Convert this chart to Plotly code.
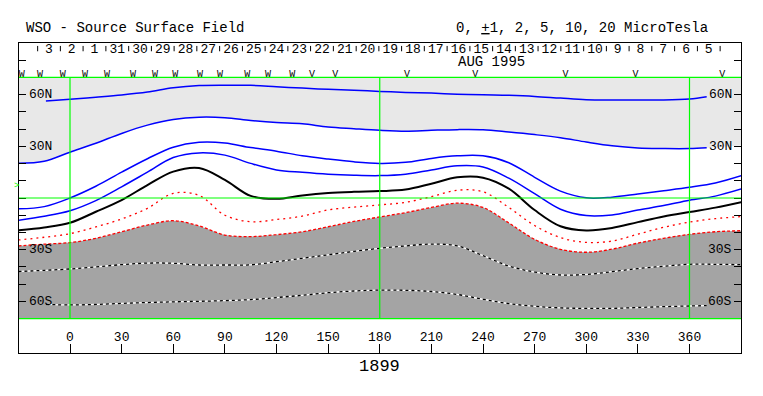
import numpy as np
import plotly.graph_objects as go

# ---------------- data ----------------
LON = [-30, -15, 0, 15, 30, 45, 60, 75, 90, 105, 120, 135, 150, 165, 180, 195,
       210, 225, 240, 255, 270, 285, 300, 315, 330, 345, 360, 375, 390]
LON_SHORT = [-14, 0, 15, 30, 45, 60, 75, 90, 105, 120, 135, 150, 165, 180, 195,
             210, 225, 240, 255, 270, 285, 300, 315, 330, 345, 360, 370]

POS_10 = [56.3, 57.3, 58.5, 59.8, 61.5, 64.0, 65.3, 65.5, 65.4, 64.6, 63.8, 63.1, 62.6, 61.9,
          61.3, 60.9, 60.3, 59.9, 59.6, 59.0, 58.0, 57.1, 56.9, 56.9, 56.9, 57.5, 58.8]
POS_5 = [20.1, 21.3, 26.6, 31.8, 37.5, 42.3, 45.6, 46.9, 46.6, 45.0, 43.8, 43.1, 41.2, 40.2, 39.3,
         38.8, 39.3, 39.7, 39.6, 38.3, 36.8, 35.0, 32.5, 30.3, 29.0, 28.7, 28.7, 29.5, 30.5]
POS_2 = [-6.3, -5.0, 0.0, 6.8, 15.0, 22.8, 29.5, 32.3, 31.9, 29.3, 27.2, 24.5, 22.6, 21.0, 20.1,
         20.7, 23.0, 24.5, 24.5, 20.5, 12.0, 4.0, 0.1, 0.5, 2.3, 4.2, 6.2, 8.7, 12.9]
POS_1 = [-12.9, -10.6, -7.4, -1.5, 6.5, 15.0, 23.5, 26.2, 24.9, 20.1, 16.3, 14.9, 13.8, 13.2, 13.0,
         13.8, 16.3, 18.7, 18.0, 11.5, 2.5, -6.5, -10.2, -9.8, -7.0, -4.4, -1.3, 1.1, 5.2]
NEUTRAL = [-18.8, -17.1, -14.4, -8.0, -1.2, 7.5, 15.3, 17.4, 10.5, 1.2, -0.5, 1.5, 2.9, 3.6, 4.0,
           4.9, 8.3, 12.0, 11.8, 5.4, -7.0, -16.4, -18.8, -17.4, -14.0, -10.7, -8.1, -5.6, -2.4]
NEG_1 = [-24.4, -22.8, -20.7, -16.8, -12.2, -6.0, 2.7, 1.5, -10.0, -13.8, -12.5, -10.5, -6.9, -5.3, -4.0,
         -2.5, 0.8, 4.5, 3.6, -5.5, -16.0, -23.0, -25.8, -25.0, -21.0, -17.0, -14.0, -12.0, -10.8]
NEG_2 = [-27.8, -26.8, -25.9, -23.4, -19.6, -15.7, -13.2, -16.2, -21.5, -22.4, -21.3, -19.6, -16.7, -13.6, -11.0,
         -8.5, -5.5, -3.0, -5.5, -14.5, -24.0, -29.8, -31.5, -29.7, -26.2, -23.4, -21.1, -19.6, -19.0]
NEG_5 = [-42.7, -42.0, -41.2, -40.0, -38.7, -37.8, -37.9, -38.9, -38.9, -38.8, -37.0, -35.0, -33.0, -31.0, -29.2,
         -27.8, -26.8, -27.8, -33.5, -39.5, -43.0, -44.7, -44.4, -42.8, -41.0, -39.6, -38.5, -38.5, -38.7]
NEG_10 = [-61.8, -62.1, -61.8, -61.2, -60.7, -60.3, -60.0, -59.6, -59.0, -57.8, -56.5, -55.0, -54.0, -53.5,
          -53.6, -54.3, -56.0, -58.8, -61.3, -62.9, -63.8, -64.1, -64.1, -63.6, -63.1, -62.7, -62.5]

LON_TICKS = [0, 30, 60, 90, 120, 150, 180, 210, 240, 270, 300, 330, 360]
LAT_TICKS = [-80, -70, -60, -50, -40, -30, -20, -10, 0, 10, 20, 30, 40, 50, 60, 70, 80]
LAT_LABELS = {60: "60N", 30: "30N", -30: "30S", -60: "60S"}

DATE_LABELS = ['3', '2', '1', '31', '30', '29', '28', '27', '26', '25', '24', '23', '22', '21', '20',
               '19', '18', '17', '16', '15', '14', '13', '12', '11', '10', '9', '8', '7', '6', '5']
DATE_LON = [-12.2, 1.0, 14.2, 27.5, 40.7, 53.9, 67.1, 80.3, 93.6, 106.8, 120.0, 133.2, 146.4, 159.7,
            172.9, 186.1, 199.3, 212.5, 225.8, 239.0, 252.2, 265.4, 278.6, 291.9, 305.1, 318.3,
            331.5, 344.7, 358.0, 371.2]

OBS_LON = [-28.1, -17.4, -4.2, 8.7, 21.5, 36.6, 49.4, 61.1, 75.6, 87.2, 103.0, 115.1, 129.1,
           140.7, 154.1, 195.8, 235.5, 287.9, 328.6, 379.0]
OBS_MARK = ['W', 'W', 'W', 'W', 'W', 'W', 'W', 'W', 'W', 'W', 'W', 'W', 'W',
            'V', 'V', 'V', 'V', 'V', 'V', 'V']

TITLE_LEFT = "WSO - Source Surface Field"
TITLE_RIGHT = "0, <u>+</u>1, 2, 5, 10, 20 MicroTesla"
MONTH_LABEL = "AUG 1995"
ROTATION = "1899"
B0_LAT = 7

# ---------------- styling ----------------
FONT = "Liberation Mono"
LIGHT = "#E8E8E8"
DARK = "#A4A4A4"
GREEN = "#00FF00"
XR = [-29.64, 389.93]
YR = [-90, 90]


def clip_to(lons, lats, hi):
    xs = [x for x in lons if x < hi]
    ys = [y for x, y in zip(lons, lats) if x < hi]
    xs.append(hi)
    ys.append(float(np.interp(hi, lons, lats)))
    return xs, ys


fig = go.Figure()
n = len(LON)
# light gray positive region (above +5 contour)
fig.add_trace(go.Scatter(x=LON, y=[70] * n, mode="lines", line=dict(width=0, shape="spline"),
                         hoverinfo="skip"))
fig.add_trace(go.Scatter(x=LON, y=POS_5, mode="lines", line=dict(width=0, shape="spline"),
                         fill="tonexty", fillcolor=LIGHT, hoverinfo="skip"))
# dark gray negative region (below -2 contour)
fig.add_trace(go.Scatter(x=LON, y=NEG_2, mode="lines", line=dict(width=0, shape="spline"),
                         hoverinfo="skip"))
fig.add_trace(go.Scatter(x=LON, y=[-70] * n, mode="lines", line=dict(width=0, shape="spline"),
                         fill="tonexty", fillcolor=DARK, hoverinfo="skip"))

# negative dotted black/white contours
for xs, ys in [(LON, NEG_5), (LON_SHORT, NEG_10)]:
    fig.add_trace(go.Scatter(x=xs, y=ys, mode="lines",
                             line=dict(color="white", width=1.3, shape="spline")))
    fig.add_trace(go.Scatter(x=xs, y=ys, mode="lines",
                             line=dict(color="black", width=1.3, shape="spline", dash="3px,3px")))
# red contours
fig.add_trace(go.Scatter(x=LON, y=NEG_2, mode="lines",
                         line=dict(color="red", width=1.3, shape="spline", dash="3px,2px")))
fig.add_trace(go.Scatter(x=LON, y=NEG_1, mode="lines",
                         line=dict(color="red", width=1.3, shape="spline", dash="2px,4px")))
# neutral line
fig.add_trace(go.Scatter(x=LON, y=NEUTRAL, mode="lines",
                         line=dict(color="black", width=2, shape="spline")))
# blue contours
x5, y5 = clip_to(LON, POS_5, 370)
for xs, ys in [(LON, POS_1), (LON, POS_2), (x5, y5), (LON_SHORT, POS_10)]:
    fig.add_trace(go.Scatter(x=xs, y=ys, mode="lines",
                             line=dict(color="blue", width=1.5, shape="spline")))

# date row
fig.add_trace(go.Scatter(x=DATE_LON, y=[85.8] * len(DATE_LON), mode="text", text=DATE_LABELS,
                         textfont=dict(family=FONT, size=13, color="black"), cliponaxis=False))
tick_lon = [DATE_LON[0] - (DATE_LON[1] - DATE_LON[0]) / 2]
tick_lon += [(a + b) / 2 for a, b in zip(DATE_LON[:-1], DATE_LON[1:])]
tick_lon += [DATE_LON[-1] + (DATE_LON[-1] - DATE_LON[-2]) / 2]
tx, ty = [], []
for t in tick_lon:
    tx += [t, t, None]
    ty += [85.2, 88.3, None]
fig.add_trace(go.Scatter(x=tx, y=ty, mode="lines", line=dict(color="black", width=1)))

# observation markers
fig.add_trace(go.Scatter(x=OBS_LON, y=[72.0] * len(OBS_LON), mode="text", text=OBS_MARK,
                         textfont=dict(family=FONT, size=10, color="black"), cliponaxis=True))

shapes = []
for lon in [0, 180, 360]:
    shapes.append(dict(type="line", xref="x", yref="y", x0=lon, x1=lon, y0=-70, y1=70,
                       line=dict(color=GREEN, width=1.2), layer="above"))
for lat in [-70, 0, 70]:
    shapes.append(dict(type="line", xref="paper", yref="y", x0=0, x1=1, y0=lat, y1=lat,
                       line=dict(color=GREEN, width=1.2), layer="above"))

annotations = []
for lat, lab in LAT_LABELS.items():
    annotations.append(dict(x=XR[0] + 4.5, y=lat, xref="x", yref="y", text=lab, showarrow=False,
                            xanchor="left", yanchor="middle",
                            font=dict(family=FONT, size=13, color="black")))
    annotations.append(dict(x=XR[1] - 4.2, y=lat, xref="x", yref="y", text=lab, showarrow=False,
                            xanchor="right", yanchor="middle",
                            font=dict(family=FONT, size=13, color="black")))
annotations.append(dict(x=0.0069, y=1.048, xref="paper", yref="paper", text=TITLE_LEFT,
                        showarrow=False, xanchor="left", yanchor="middle",
                        font=dict(family=FONT, size=14, color="black")))
annotations.append(dict(x=0.957, y=1.048, xref="paper", yref="paper", text=TITLE_RIGHT,
                        showarrow=False, xanchor="right", yanchor="middle",
                        font=dict(family=FONT, size=14, color="black")))
annotations.append(dict(x=245.1, y=78.8, xref="x", yref="y", text=MONTH_LABEL, showarrow=False,
                        xanchor="center", yanchor="middle",
                        font=dict(family=FONT, size=14, color="black")))
annotations.append(dict(x=180, y=-0.045, xref="x", yref="paper", text=ROTATION, showarrow=False,
                        xanchor="center", yanchor="middle",
                        font=dict(family=FONT, size=17, color="black")))
annotations.append(dict(x=-0.004, y=B0_LAT, xref="paper", yref="y", text=">", showarrow=False,
                        xanchor="center", yanchor="middle",
                        font=dict(family=FONT, size=9, color=GREEN)))

fig.update_layout(
    width=763, height=396,
    margin=dict(l=19, r=22, t=43, b=43, pad=0),
    paper_bgcolor="white", plot_bgcolor="white",
    showlegend=False,
    shapes=shapes, annotations=annotations,
    xaxis=dict(range=XR, tickmode="array", tickvals=LON_TICKS, ticks="inside", ticklen=9,
               tickcolor="black", tickwidth=1, ticklabelposition="inside",
               tickfont=dict(family=FONT, size=13, color="black"),
               showline=True, linecolor="black", linewidth=1, mirror=True,
               showgrid=False, zeroline=False),
    yaxis=dict(range=YR, tickmode="array", tickvals=LAT_TICKS, ticks="inside", ticklen=7,
               tickcolor="black", tickwidth=1, showticklabels=False,
               showline=True, linecolor="black", linewidth=1, mirror="ticks",
               showgrid=False, zeroline=False),
)

fig.write_html("out.html", config={"displayModeBar": False},
               post_script="document.body.style.margin='0px';")
